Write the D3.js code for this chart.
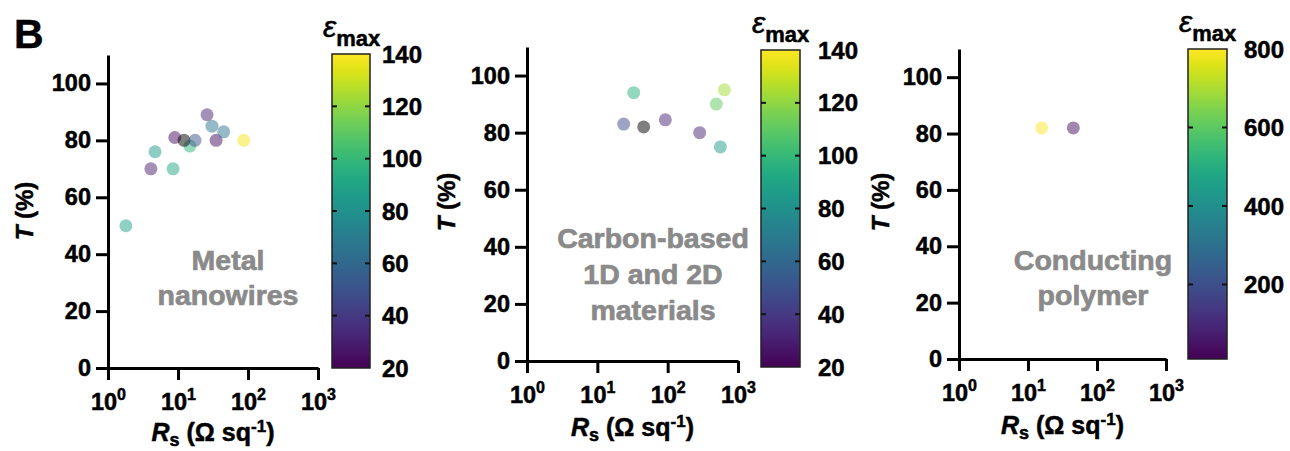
<!DOCTYPE html>
<html><head><meta charset="utf-8">
<script src="https://cdn.jsdelivr.net/npm/d3@7"></script>
<style>body{margin:0;background:#fff}svg{display:block}text{font-family:"Liberation Sans",Arial,sans-serif;font-weight:bold}</style>
</head><body><svg id="c" width="1290" height="451"></svg>
<script>
// ---- data ----
const metalRs   = [1.8, 4.1, 4.7, 8.5, 9, 14.8, 12.2, 17.5, 26, 30.6, 35, 45, 87];
const metalT    = [50, 70, 76, 70, 81, 78, 80, 80, 89, 85, 80, 83, 80];
const metalEmax = [88, 30, 86, 92, 24, 98, null, 50, 32, 66, 24, 66, 138];

const carbonRs   = [23.7, 32.9, 45.6, 92.7, 285, 492, 562, 641];
const carbonT    = [83, 94, 82, 84.5, 80, 90, 75, 95];
const carbonEmax = [46, 96, null, 32, 32, 110, 86, 124];

const polymerRs   = [15.8, 45.4];
const polymerT    = [82, 82];
const polymerEmax = [800, 40];

const xTickExps = [0, 1, 2, 3];
const yTicks = [0, 20, 40, 60, 80, 100];
const cbTicksA = [20, 40, 60, 80, 100, 120, 140];
const cbTicksB = [200, 400, 600, 800];
const labelMetal = ["Metal", "nanowires"];
const labelCarbon = ["Carbon-based", "1D and 2D", "materials"];
const labelPolymer = ["Conducting", "polymer"];

const svg = d3.select("#c");
svg.append("text").attr("x", 14).attr("y", 48).attr("font-size", 41).text("B");

const defs = svg.append("defs");

function panel(cfg, idx) {
  const x = d3.scaleLog().domain([1, 1000]).range([cfg.x0, cfg.x1]);
  const y = d3.scaleLinear().domain([0, 110]).range([cfg.yB, cfg.yT]);
  const g = svg.append("g");

  // axes
  const ya = g.append("g").attr("transform", `translate(${cfg.x0},0)`)
    .call(d3.axisLeft(y).tickValues(yTicks).tickSize(12).tickSizeOuter(0).tickPadding(5));
  const xa = g.append("g").attr("transform", `translate(0,${cfg.yB})`)
    .call(d3.axisBottom(x).tickValues(xTickExps.map(e => Math.pow(10, e))).tickSize(12).tickSizeOuter(0).tickPadding(4).tickFormat(() => ""));
  [ya, xa].forEach(a => {
    a.selectAll("path,line").attr("stroke", "#000").attr("stroke-width", 3);
    a.selectAll("text").attr("font-size", 23.5).attr("fill", "#000").attr("font-family", "Liberation Sans, Arial, sans-serif").attr("font-weight", "bold");
  });
  xa.selectAll(".tick text").each(function(d) {
    const t = d3.select(this).attr("dy", null).attr("y", 42);
    t.append("tspan").text("10");
    t.append("tspan").attr("font-size", 16).attr("dy", -10).text(Math.round(Math.log10(d)));
  });

  // axis titles
  const cx = (cfg.x0 + cfg.x1) / 2;
  const xt = g.append("text").attr("x", cx).attr("y", cfg.xtY).attr("text-anchor", "middle").attr("font-size", 25);
  xt.append("tspan").attr("font-style", "italic").text("R");
  xt.append("tspan").attr("font-size", 18).attr("dy", 5).text("s");
  xt.append("tspan").attr("dy", -5).text(" (\u03A9 sq");
  xt.append("tspan").attr("font-size", 17).attr("dy", -9).text("-1");
  xt.append("tspan").attr("dy", 9).text(")");

  const yt = g.append("text").attr("transform", `translate(${cfg.ytX},${cfg.ytY}) rotate(-90)`)
    .attr("text-anchor", "middle").attr("font-size", 24);
  yt.append("tspan").attr("font-style", "italic").text("T");
  yt.append("tspan").text(" (%)");

  // annotation
  cfg.label.forEach((s, i) => {
    g.append("text").attr("x", cfg.lx).attr("y", cfg.ly + i * cfg.lh).attr("text-anchor", "middle")
      .attr("font-size", 28.5).attr("fill", "#8a8a8a").attr("stroke", "#8a8a8a").attr("stroke-width", 0.7).text(s);
  });

  // color scale + bar
  const col = d3.scaleSequential(d3.interpolateViridis).domain(cfg.cdom);
  const gid = "grad" + idx;
  const gr = defs.append("linearGradient").attr("id", gid).attr("x1", 0).attr("y1", 1).attr("x2", 0).attr("y2", 0);
  d3.range(0, 1.0001, 0.05).forEach(t => gr.append("stop").attr("offset", t).attr("stop-color", d3.interpolateViridis(t)));
  g.append("rect").attr("x", cfg.cbx0).attr("y", cfg.cbyT).attr("width", cfg.cbx1 - cfg.cbx0).attr("height", cfg.cbyB - cfg.cbyT)
    .attr("fill", `url(#${gid})`).attr("stroke", "#222").attr("stroke-width", 1.5);
  const cy = d3.scaleLinear().domain(cfg.cdom).range([cfg.cbyB, cfg.cbyT]);
  cfg.cticks.forEach(v => {
    const yy = cy(v);
    if (v > cfg.cdom[0] && v < cfg.cdom[1]) {
      g.append("line").attr("x1", cfg.cbx0).attr("x2", cfg.cbx0 + 5).attr("y1", yy).attr("y2", yy).attr("stroke", "#111").attr("stroke-width", 2);
      g.append("line").attr("x1", cfg.cbx1 - 5).attr("x2", cfg.cbx1).attr("y1", yy).attr("y2", yy).attr("stroke", "#111").attr("stroke-width", 2);
    }
    g.append("text").attr("x", cfg.cbx1 + cfg.cbgap).attr("y", yy).attr("dy", "0.36em").attr("font-size", 24).text(v);
  });
  const et = g.append("text").attr("x", cfg.cbx0 - 9).attr("y", cfg.cbyT - 17).attr("font-size", 30);
  et.append("tspan").attr("font-style", "italic").attr("font-weight", "normal").text("\u03B5");
  et.append("tspan").attr("font-size", 22).attr("dy", 9).text("max");

  // points
  const pts = cfg.rs.map((r, i) => ({ r, t: cfg.t[i], e: cfg.e[i] }));
  g.append("g").selectAll("circle").data(pts).join("circle")
    .attr("cx", d => x(d.r)).attr("cy", d => y(d.t)).attr("r", 6.5)
    .attr("fill", d => d.e == null ? "#000" : col(d.e))
    .attr("fill-opacity", 0.5);
}

panel({ x0: 108, x1: 318, yT: 55, yB: 368, rs: metalRs, t: metalT, e: metalEmax, cdom: [20, 140], cticks: cbTicksA,
  cbx0: 332, cbx1: 370, cbyT: 54, cbyB: 368, cbgap: 12, label: labelMetal, lx: 228, ly: 270, lh: 35,
  xtY: 441, ytX: 33, ytY: 211 }, 1);
panel({ x0: 527, x1: 738, yT: 47, yB: 361, rs: carbonRs, t: carbonT, e: carbonEmax, cdom: [20, 140], cticks: cbTicksA,
  cbx0: 761, cbx1: 800, cbyT: 50, cbyB: 367, cbgap: 18, label: labelCarbon, lx: 653, ly: 248, lh: 36,
  xtY: 436, ytX: 455, ytY: 202 }, 2);
panel({ x0: 959, x1: 1166, yT: 49, yB: 359, rs: polymerRs, t: polymerT, e: polymerEmax, cdom: [10, 800], cticks: cbTicksB,
  cbx0: 1188, cbx1: 1227, cbyT: 49, cbyB: 359, cbgap: 17, label: labelPolymer, lx: 1093, ly: 270, lh: 35,
  xtY: 434, ytX: 889, ytY: 202 }, 3);

// slightly heavier strokes on black text to match the reference's weight
svg.selectAll("text").filter(function(){ return !this.getAttribute("stroke"); })
  .attr("stroke", "#000").attr("stroke-width", 0.5);
</script></body></html>
